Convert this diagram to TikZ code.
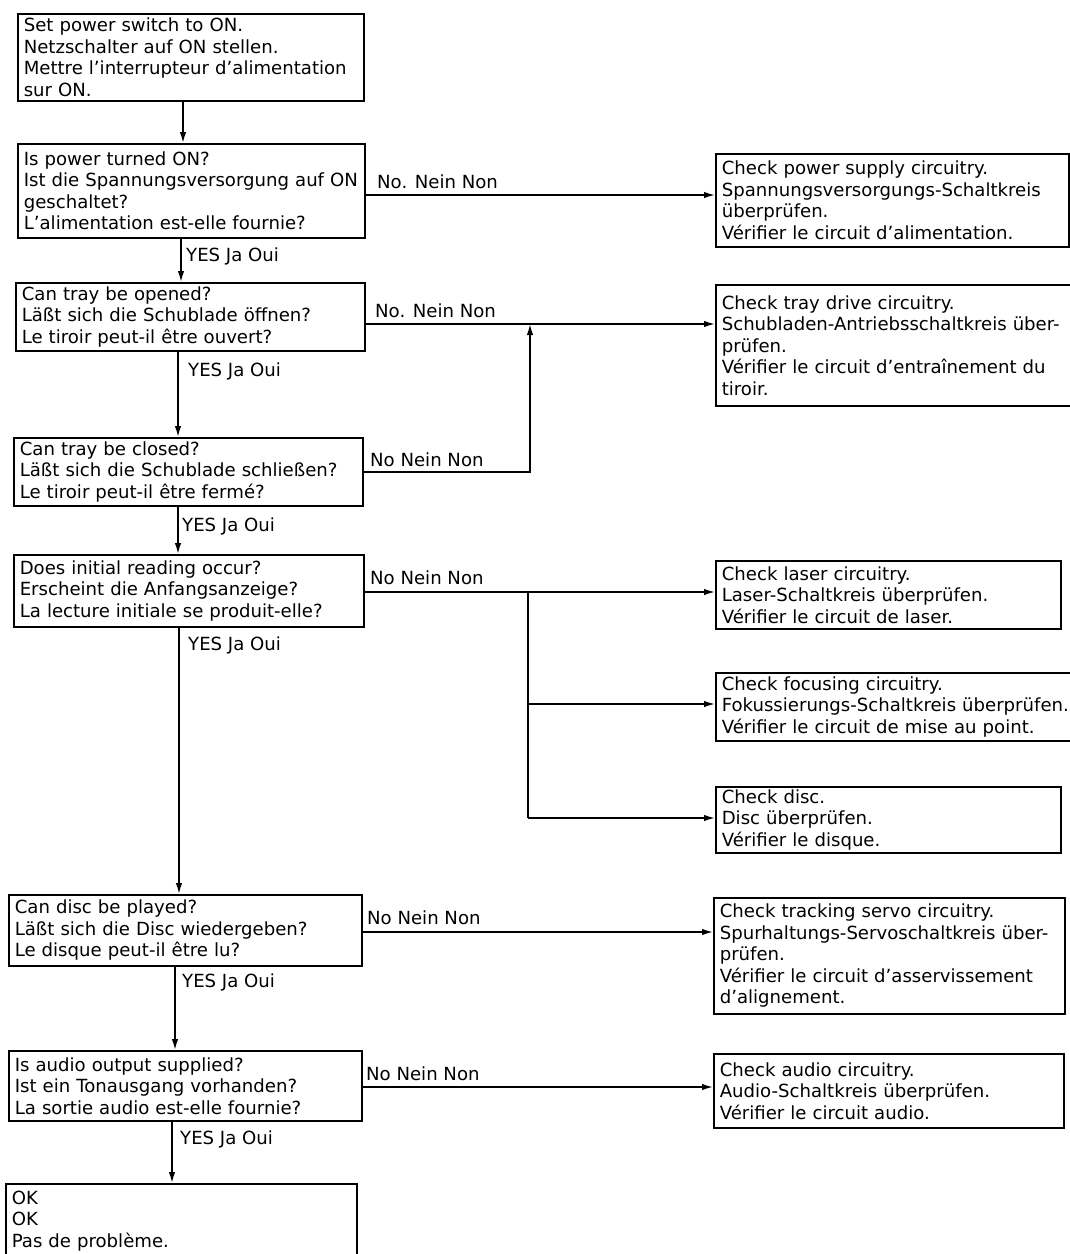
\documentclass[tikz,border=0pt]{standalone}
\usepackage{fontspec}
\setmainfont{DejaVu Sans}
\usetikzlibrary{arrows.meta}
\newcommand\noWrap[1]{\mbox{#1}}
\tikzset{
  box/.style={draw, line width=1.6pt, anchor=north west, align=left,
    inner xsep=6pt, inner ysep=1pt, font=\fontsize{18.1}{21.5}\selectfont},
  lbl/.style={anchor=base west, inner sep=0pt, font=\fontsize{18.1}{21.5}\selectfont},
  conn/.style={line width=1.6pt},
  arr/.style={conn, -{Latex[length=11pt,width=6.5pt]}},
}
\begin{document}
\begin{tikzpicture}[x=1pt,y=-1pt]
\fill[white] (0,0) rectangle (1070,1254);
\useasboundingbox (0,0) rectangle (1070,1254);

% left column
\node[box, text width=334pt, minimum height=87pt] (b1) at (17,13)
  {\noWrap{Set power switch to ON.}\\\noWrap{Netzschalter auf ON stellen.}\\\noWrap{Mettre l’interrupteur d’alimentation}\\\noWrap{sur ON.}};
\node[box, text width=335pt, minimum height=94pt] (b2) at (17,143)
  {\noWrap{Is power turned ON?}\\\noWrap{Ist die Spannungsversorgung auf ON}\\\noWrap{geschaltet?}\\\noWrap{L’alimentation est-elle fournie?}};
\node[box, text width=337pt, minimum height=68pt] (b3) at (15,282)
  {\noWrap{Can tray be opened?}\\\noWrap{Läßt sich die Schublade öffnen?}\\\noWrap{Le tiroir peut-il être ouvert?}};
\node[box, text width=337pt, minimum height=68pt] (b4) at (13,437)
  {\noWrap{Can tray be closed?}\\\noWrap{Läßt sich die Schublade schließen?}\\\noWrap{Le tiroir peut-il être fermé?}};
\node[box, text width=338pt, minimum height=72pt] (b5) at (13,554)
  {\noWrap{Does initial reading occur?}\\\noWrap{Erscheint die Anfangsanzeige?}\\\noWrap{La lecture initiale se produit-elle?}};
\node[box, text width=341pt, minimum height=71pt] (b6) at (8,894)
  {\noWrap{Can disc be played?}\\\noWrap{Läßt sich die Disc wiedergeben?}\\\noWrap{Le disque peut-il être lu?}};
\node[box, text width=341pt, minimum height=70pt] (b7) at (8,1050)
  {\noWrap{Is audio output supplied?}\\\noWrap{Ist ein Tonausgang vorhanden?}\\\noWrap{La sortie audio est-elle fournie?}};
\node[box, text width=339pt, minimum height=74pt] (b8) at (5,1183)
  {\noWrap{OK}\\\noWrap{OK}\\\noWrap{Pas de problème.}};

% right column
\node[box, text width=341pt, minimum height=93pt] (r1) at (715,153)
  {\noWrap{Check power supply circuitry.}\\\noWrap{Spannungsversorgungs-Schaltkreis}\\\noWrap{überprüfen.}\\\noWrap{Vérifier le circuit d’alimentation.}};
\node[box, text width=350pt, minimum height=121pt] (r2) at (715,284)
  {\noWrap{Check tray drive circuitry.}\\\noWrap{Schubladen-Antriebsschaltkreis über-}\\\noWrap{prüfen.}\\\noWrap{Vérifier le circuit d’entraînement du}\\\noWrap{tiroir.}};
\node[box, text width=333pt, minimum height=68pt] (r3) at (715,560)
  {\noWrap{Check laser circuitry.}\\\noWrap{Laser-Schaltkreis überprüfen.}\\\noWrap{Vérifier le circuit de laser.}};
\node[box, text width=350pt, minimum height=68pt] (r4) at (715,672)
  {\noWrap{Check focusing circuitry.}\\\noWrap{Fokussierungs-Schaltkreis überprüfen.}\\\noWrap{Vérifier le circuit de mise au point.}};
\node[box, text width=333pt, minimum height=66pt] (r5) at (715,786)
  {\noWrap{Check disc.}\\\noWrap{Disc überprüfen.}\\\noWrap{Vérifier le disque.}};
\node[box, text width=339pt, minimum height=116pt] (r6) at (713,897)
  {\noWrap{Check tracking servo circuitry.}\\\noWrap{Spurhaltungs-Servoschaltkreis über-}\\\noWrap{prüfen.}\\\noWrap{Vérifier le circuit d’asservissement}\\\noWrap{d’alignement.}};
\node[box, text width=338pt, minimum height=74pt] (r7) at (713,1053)
  {\noWrap{Check audio circuitry.}\\\noWrap{Audio-Schaltkreis überprüfen.}\\\noWrap{Vérifier le circuit audio.}};

% vertical YES connectors
\draw[arr] (183,0 |- b1.south) -- (183,0 |- b2.north);
\draw[arr] (181,0 |- b2.south) -- (181,0 |- b3.north);
\draw[arr] (178,0 |- b3.south) -- (178,0 |- b4.north);
\draw[arr] (178,0 |- b4.south) -- (178,0 |- b5.north);
\draw[arr] (179,0 |- b5.south) -- (179,0 |- b6.north);
\draw[arr] (175,0 |- b6.south) -- (175,0 |- b7.north);
\draw[arr] (172,0 |- b7.south) -- (172,0 |- b8.north);

\node[lbl] (y1) at (186,261) {YES Ja Oui};
\node[lbl] (y2) at (188,376) {YES Ja Oui};
\node[lbl] (y3) at (182,531) {YES Ja Oui};
\node[lbl] (y4) at (188,650) {YES Ja Oui};
\node[lbl] (y5) at (182,987) {YES Ja Oui};
\node[lbl] (y6) at (180,1144) {YES Ja Oui};

% horizontal NO connectors
\draw[arr] (b2.east |- 0,195) -- (r1.west |- 0,195);
\draw[arr] (b3.east |- 0,324) -- (r2.west |- 0,324);
\coordinate (j1) at (530,472);
\draw[arr] (b4.east |- j1) -- (j1) -- (j1 |- 0,324);
\coordinate (j2) at (528,592);
\coordinate (j3) at (528,704);
\coordinate (j4) at (528,818);
\draw[arr] (b5.east |- j2) -- (r3.west |- j2);
\draw[conn] (j2) -- (j4);
\draw[arr] (j3) -- (r4.west |- j3);
\draw[arr] (j4) -- (r5.west |- j4);
\draw[arr] (b6.east |- 0,932) -- (r6.west |- 0,932);
\draw[arr] (b7.east |- 0,1087) -- (r7.west |- 0,1087);

\node[lbl] (n1) at (377,188) {No. Nein Non};
\node[lbl] (n2) at (375,317) {No. Nein Non};
\node[lbl] (n3) at (370,466) {No Nein Non};
\node[lbl] (n4) at (370,584) {No Nein Non};
\node[lbl] (n5) at (367,924) {No Nein Non};
\node[lbl] (n6) at (366,1080) {No Nein Non};
\end{tikzpicture}
\end{document}
